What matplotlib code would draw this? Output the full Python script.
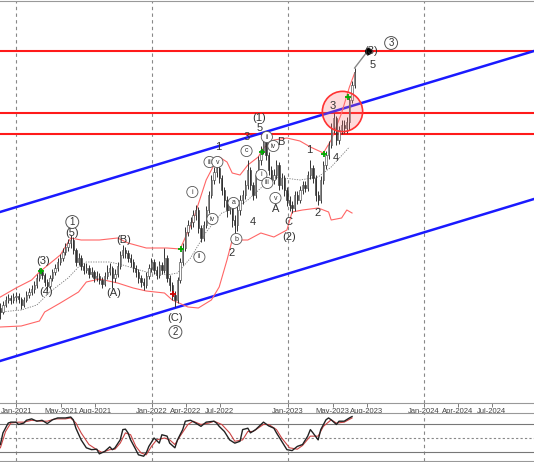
import numpy as np
import pandas as pd
import matplotlib
matplotlib.use('Agg')
import matplotlib.pyplot as plt
import matplotlib.dates as mdates

plt.rcParams['font.family'] = ['Liberation Sans', 'DejaVu Sans']

# weekly bars starting 2020-11-19
start = '2020-11-19'
first_open = 95
close = [91, 98, 103, 105, 103, 106, 107, 104, 98, 103,
         108, 111, 114, 118, 125, 131, 128, 121, 117, 125,
         131, 135, 141, 145, 151, 156, 160, 163, 153, 141,
         145, 137, 133, 135, 129, 131, 125, 127, 123, 119,
         127, 131, 135, 125, 129, 137, 148, 153, 150, 145,
         141, 135, 131, 125, 121, 118, 127, 135, 141, 133,
         128, 138, 133, 145, 125, 118, 108, 103, 123, 141,
         155, 171, 178, 181, 188, 193, 175, 165, 178, 193,
         208, 223, 231, 235, 225, 213, 203, 193, 198, 183,
         178, 193, 203, 208, 218, 233, 218, 208, 228, 243,
         253, 261, 248, 233, 223, 228, 238, 218, 225, 213,
         203, 198, 195, 208, 203, 213, 218, 215, 228, 235,
         225, 208, 203, 223, 238, 248, 258, 275, 285, 263,
         273, 278, 275, 281, 303, 318, 331]
high = [100, 102, 107, 109, 108, 110, 111, 110, 106, 106,
        112, 115, 118, 122, 129, 135, 134, 130, 124, 128,
        134, 139, 145, 149, 155, 160, 164, 168, 166, 155,
        150, 148, 140, 140, 138, 136, 133, 132, 130, 126,
        131, 138, 140, 137, 134, 141, 152, 158, 156, 153,
        149, 144, 138, 134, 128, 125, 131, 139, 145, 144,
        137, 142, 141, 155, 148, 128, 121, 112, 126, 145,
        160, 176, 183, 186, 193, 198, 196, 178, 182, 197,
        212, 228, 236, 240, 238, 228, 216, 207, 204, 200,
        188, 197, 208, 213, 223, 243, 236, 221, 232, 247,
        257, 268, 264, 251, 237, 234, 243, 241, 230, 228,
        216, 207, 202, 212, 212, 217, 222, 222, 232, 243,
        238, 228, 212, 227, 242, 252, 262, 280, 290, 287,
        277, 283, 283, 286, 306, 322, 335]
low = [84, 89, 96, 100, 99, 100, 102, 100, 94, 96,
       101, 105, 108, 110, 115, 122, 124, 117, 112, 115,
       122, 128, 132, 138, 142, 148, 152, 155, 149, 137,
       138, 133, 129, 130, 125, 126, 121, 122, 119, 115,
       117, 124, 128, 115, 121, 126, 134, 145, 145, 141,
       136, 131, 126, 120, 116, 113, 115, 124, 131, 129,
       124, 125, 129, 130, 121, 112, 103, 96, 100, 120,
       138, 152, 167, 174, 176, 183, 170, 161, 162, 175,
       190, 205, 219, 226, 220, 208, 196, 186, 189, 176,
       163, 172, 188, 199, 204, 214, 213, 203, 205, 224,
       238, 249, 243, 228, 218, 219, 224, 213, 214, 207,
       197, 192, 190, 192, 199, 200, 209, 211, 212, 224,
       220, 202, 198, 200, 219, 234, 244, 255, 270, 258,
       259, 269, 270, 270, 273, 300, 315]

# bollinger-style bands and middle average (bar index, value)
up_idx = [0, 6, 12, 15, 23, 27, 31, 38, 45, 49, 56, 64, 69, 74, 79, 83, 84, 87, 89, 92,
          95, 99, 101, 105, 110, 115, 119, 124, 127, 131, 134, 136]
up_val = [106, 115, 123, 131, 148, 165, 163, 163, 165, 160, 155, 155, 154, 183, 223, 243,
          246, 241, 230, 228, 238, 246, 255, 263, 265, 262, 256, 250, 263, 290, 316, 330]
lo_idx = [0, 8, 15, 17, 23, 30, 33, 38, 45, 51, 56, 63, 66, 72, 76, 81, 84, 87, 89, 95,
          100, 105, 110, 112, 116, 122, 126, 127, 131, 133, 135]
lo_val = [76, 77, 82, 91, 100, 111, 121, 124, 120, 115, 112, 110, 103, 96, 95, 103, 116,
          143, 163, 163, 170, 166, 173, 191, 193, 195, 191, 183, 185, 193, 190]
ma_idx = [0, 8, 14, 19, 26, 30, 33, 42, 47, 56, 64, 68, 73, 79, 85, 90, 95, 100, 106,
          115, 122, 127, 134]
ma_val = [91, 93, 98, 111, 125, 136, 141, 141, 138, 131, 128, 130, 145, 171, 190, 195,
          203, 215, 226, 223, 226, 236, 256]

# stochastic %K and %D (bar index, value)
k_idx = [0, 1, 3, 4, 6, 7, 9, 10, 12, 14, 16, 18, 20, 22, 25, 27, 28, 29, 31, 33,
         35, 37, 38, 40, 42, 43, 44, 46, 47, 48, 49, 50, 52, 53, 55, 56, 57, 59, 61, 62,
         64, 65, 67, 68, 70, 71, 73, 75, 77, 79, 82, 83, 84, 86, 88, 90, 92, 93, 95, 96,
         98, 101, 103, 105, 106, 108, 110, 112, 114, 116, 118, 119, 120, 122, 123, 125,
         126, 127, 129, 130, 132, 134, 135]
k_val = [36, 61, 82, 84, 84, 79, 82, 88, 91, 86, 88, 81, 89, 93, 93, 95, 89, 71, 46, 29,
         25, 26, 16, 21, 31, 25, 29, 46, 68, 69, 61, 46, 25, 14, 11, 18, 32, 50, 39, 57,
         54, 39, 29, 46, 68, 86, 88, 82, 75, 84, 86, 82, 75, 64, 46, 39, 43, 68, 71, 61,
         68, 84, 76, 71, 61, 43, 25, 23, 32, 36, 54, 68, 61, 46, 68, 89,
         93, 89, 79, 86, 86, 93, 96]
d_idx = [0, 2, 4, 7, 9, 12, 16, 18, 21, 25, 27, 29, 31, 34, 37, 39, 42, 44, 46, 48,
         50, 52, 54, 56, 58, 60, 63, 65, 67, 69, 72, 74, 77, 80, 82, 85, 88, 90, 93, 95,
         97, 101, 103, 106, 108, 111, 114, 116, 119, 122, 124, 127, 129, 132, 135]
d_val = [29, 64, 82, 84, 84, 88, 86, 86, 91, 91, 93, 82, 61, 36, 25, 19, 25, 26, 39, 61,
         57, 32, 18, 14, 32, 46, 50, 46, 36, 54, 79, 86, 79, 82, 86, 79, 61, 43, 46, 64,
         64, 79, 79, 68, 50, 29, 26, 34, 54, 54, 75, 89, 82, 84, 93]

# levels and channel
levels = [352, 290, 269]
chan_dates = ['2020-11-18', '2024-10-23']
chan_upper = [191, 352]
chan_lower = [42, 204]
target_idx, target_price = 141, 352
circle_idx, circle_price = 131, 292
green_marks = [(15.7, 132), (69.5, 154), (100.6, 251), (124.4, 249), (133.6, 306)]
red_marks = [(66.4, 109)]

labels = [
    (16.5, 142, '(3)', 'txt'), (17.7, 111, '(4)', 'txt'), (27.6, 170, '(5)', 'txt'),
    (27.6, 181, '1', 'big'), (43.4, 110, '(A)', 'txt'), (47.2, 163, '(B)', 'txt'),
    (67.2, 85, '(C)', 'txt'), (67.2, 71, '2', 'big'),
    (73.7, 211, 'i', 'circ'), (76.4, 146, 'ii', 'circ'), (80.3, 241, 'iii', 'circ'),
    (83.3, 241, 'v', 'circ'), (83.7, 256, '1', 'txt'), (81.4, 184, 'iv', 'circ'),
    (89.5, 200, 'a', 'circ'), (90.6, 164, 'b', 'circ'), (88.7, 150, '2', 'txt'),
    (94.5, 252, 'c', 'circ'), (96.8, 181, '4', 'txt'), (94.5, 266, '3', 'txt'),
    (99.5, 275, '5', 'txt'), (99.5, 285, '(1)', 'txt'), (102.3, 266, 'ii', 'circ'),
    (104.8, 257, 'iv', 'circ'), (107.5, 261, 'B', 'txt'), (100.2, 228, 'i', 'circ'),
    (102.5, 220, 'iii', 'circ'), (105.6, 205, 'v', 'circ'), (105.6, 194, 'A', 'txt'),
    (110.6, 181, 'C', 'txt'), (111, 166, '(2)', 'txt'), (118.7, 253, '1', 'txt'),
    (121.7, 190, '2', 'txt'), (127.5, 297, '3', 'txt'), (128.6, 245, '4', 'txt'),
    (142.5, 352, '(3)', 'txt'), (142.9, 338, '5', 'txt'), (150, 360, '3', 'big'),
]

tick_dates = ['2021-01-01', '2021-05-01', '2021-08-01', '2022-01-01', '2022-04-01',
              '2022-07-01', '2023-01-01', '2023-05-01', '2023-08-01', '2024-01-01',
              '2024-04-01', '2024-07-01']
year_lines = ['2021-01-01', '2022-01-01', '2023-01-01', '2024-01-01']

# ---- plotting
x0 = mdates.date2num(pd.Timestamp(start))
def bx(i):
    return x0 + 7 * np.asarray(i, dtype=float)

n = len(close)
xs = bx(np.arange(n))
opens = [first_open] + close[:-1]

fig = plt.figure(figsize=(5.34, 4.62), dpi=100)
ax = fig.add_axes([0, 59 / 462, 1, 402 / 462])
ax2 = fig.add_axes([0, 1 / 462, 1, 48 / 462])

xlim = [mdates.date2num(pd.Timestamp(d)) for d in chan_dates]
for a in (ax, ax2):
    a.set_xlim(xlim)
    for d in year_lines:
        a.axvline(mdates.date2num(pd.Timestamp(d)), color='#888888', lw=0.8,
                  ls=(0, (3, 3)), zorder=0)
    a.set_yticks([])
    for s in ('left', 'right'):
        a.spines[s].set_visible(False)
    for s in ('top', 'bottom'):
        a.spines[s].set_color('#999999')

ax.set_ylim(0, 402)

# levels and channel
for lv in levels:
    ax.axhline(lv, color='#ff1a1a', lw=1.5, zorder=2)
ax.plot(xlim, chan_upper, color='#1a1aff', lw=1.8, zorder=2)
ax.plot(xlim, chan_lower, color='#1a1aff', lw=1.8, zorder=2)

# bands and average
ax.plot(bx(up_idx), up_val, color='#ff6666', lw=0.8, zorder=3)
ax.plot(bx(lo_idx), lo_val, color='#ff6666', lw=0.8, zorder=3)
ax.plot(bx(ma_idx), ma_val, color='#777777', lw=0.6, ls=(0, (1.5, 1.5)), zorder=3)

# bars
ax.vlines(xs, low, high, color='#333333', lw=0.7, zorder=4)
body_lo = np.minimum(opens, close)
body_h = np.abs(np.array(close) - np.array(opens))
cols = ['white' if c >= o else '#333333' for o, c in zip(opens, close)]
ax.bar(xs, body_h, bottom=body_lo, width=3.5, color=cols, edgecolor='#333333',
       lw=0.4, zorder=5)

# projection to target
ax.plot(bx([n - 1, target_idx]), [close[-1] + 4, target_price], color='#888888',
        lw=1.0, zorder=5)
ax.plot(bx(target_idx), target_price, 'o', color='black', ms=4, zorder=6)

# highlighted zone
ax.plot(bx(circle_idx), circle_price, 'o', ms=29, mfc=(1, 0.45, 0.45, 0.25),
        mec='#ff3333', mew=1.2, zorder=6)

for i, p in green_marks:
    ax.plot(bx(i), p, '+', color='#00aa00', ms=5, mew=1.3, zorder=7)
for i, p in red_marks:
    ax.plot(bx(i), p, '+', color='#cc0000', ms=5, mew=1.3, zorder=7)

for i, p, t, kind in labels:
    if kind == 'txt':
        ax.text(bx(i), p, t, ha='center', va='center', fontsize=8, color='#333333',
                zorder=8)
    elif kind == 'circ':
        ax.text(bx(i), p, t, ha='center', va='center', fontsize=5, color='#333333',
                zorder=8, bbox=dict(boxstyle='circle,pad=0.3', fc='white',
                                    ec='#555555', lw=0.6))
    else:
        ax.text(bx(i), p, t, ha='center', va='center', fontsize=7, color='#333333',
                zorder=8, bbox=dict(boxstyle='circle,pad=0.15', fc='white',
                                    ec='#555555', lw=0.7))

# date axis
ticks = [mdates.date2num(pd.Timestamp(d)) for d in tick_dates]
ax.set_xticks(ticks)
ax.xaxis.set_major_formatter(mdates.DateFormatter('%b-%Y'))
ax.tick_params(axis='x', length=3, width=0.6, color='#666666', pad=0.5,
               labelsize=5.5, labelcolor='#444444')

# stochastic
ax2.set_ylim(0.7, 103.6)
ax2.set_xticks([])
ax2.axhline(80, color='#777777', lw=0.8)
ax2.axhline(20, color='#777777', lw=0.8)
ax2.axhline(50, color='#888888', lw=0.8, ls=(0, (2, 2)))
ax2.plot(bx(d_idx), d_val, color='#cc4444', lw=0.8)
ax2.plot(bx(k_idx), k_val, color='#222222', lw=1.0)

fig.savefig('out.png', dpi=100)
